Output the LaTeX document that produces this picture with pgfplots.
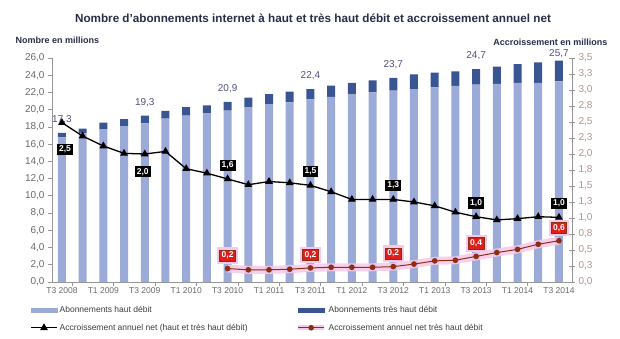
\documentclass[border=0pt]{standalone}
\usepackage{fontspec}
\setmainfont{Liberation Sans}
\usepackage{pgfplots}
\usepackage{pgfplotstable}
\pgfplotsset{compat=1.18}

\definecolor{hd}{RGB}{155,170,214}
\definecolor{thd}{RGB}{58,86,146}
\definecolor{redline}{RGB}{140,45,20}
\definecolor{glow}{RGB}{248,200,232}
\definecolor{tickgray}{RGB}{105,105,105}
\definecolor{righttick}{RGB}{175,148,138}
\definecolor{totcol}{RGB}{80,80,125}
\definecolor{titlecol}{RGB}{40,45,70}
\definecolor{labred}{RGB}{222,30,25}
\definecolor{axisgray}{RGB}{150,150,150}
\definecolor{legtext}{RGB}{60,60,60}

\pgfplotstableread{
x hd thd
0 16.8 0.5
1 17.25 0.55
2 17.75 0.75
3 18.1 0.8
4 18.4 0.9
5 18.95 0.9
6 19.3 1.0
7 19.6 0.9
8 19.9 1.0
9 20.3 1.1
10 20.65 1.15
11 20.85 1.25
12 21.2 1.2
13 21.5 1.3
14 21.8 1.3
15 22.0 1.4
16 22.2 1.5
17 22.4 1.7
18 22.6 1.7
19 22.75 1.7
20 22.9 1.8
21 23.0 2.0
22 23.1 2.2
23 23.1 2.4
24 23.3 2.4
}\bars

\pgfplotstableread{
x y
0 2.49
1 2.28
2 2.125
3 2.01
4 2.0
5 2.04
6 1.77
7 1.70
8 1.61
9 1.52
10 1.57
11 1.55
12 1.51
13 1.41
14 1.29
15 1.29
16 1.29
17 1.25
18 1.19
19 1.09
20 1.02
21 0.97
22 0.99
23 1.02
24 1.01
}\total

\pgfplotstableread{
x y
8 0.21
9 0.19
10 0.19
11 0.20
12 0.22
13 0.23
14 0.23
15 0.23
16 0.24
17 0.28
18 0.33
19 0.34
20 0.40
21 0.46
22 0.51
23 0.59
24 0.645
}\thdinc

\tikzset{
  blacklab/.style={fill=black, text=white, font=\bfseries\fontsize{8.5bp}{10bp}\selectfont, inner sep=2bp},
  totlab/.style={font=\fontsize{10bp}{12bp}\selectfont, text=totcol, anchor=south, inner sep=1bp},
}
\pgfplotsset{
  base/.style={scale only axis, width=520bp, height=224bp,
    xmin=-0.48, xmax=24.63, clip=false,
    axis line style={axisgray, line width=0.8bp},
    tick style={axisgray, line width=0.8bp}},
  linelegend/.style={legend image code/.code={\draw[mark repeat=2,mark phase=2,##1] plot coordinates {(0bp,0bp) (13bp,0bp) (26bp,0bp)};}},
  redlegend/.style={legend image code/.code={\draw[glow, line width=5bp] (0bp,0bp) -- (26bp,0bp);
    \draw[mark repeat=2,mark phase=2,##1] plot coordinates {(0bp,0bp) (13bp,0bp) (26bp,0bp)};}},
  hdlegend/.style={legend image code/.code={\fill[hd] (0bp,-2bp) rectangle (26bp,2bp);}},
  thdlegend/.style={legend image code/.code={\fill[thd] (0bp,-2bp) rectangle (26bp,2bp);}},
}

\begin{document}
\begin{tikzpicture}
\useasboundingbox (-52bp,-57bp) rectangle (568bp,282bp);

% bars
\begin{axis}[base,
  ybar stacked, bar width=8bp,
  ymin=0, ymax=26,
  axis y line*=left, axis x line*=bottom,
  ytick={0,2,...,26},
  yticklabels={{0,0},{2,0},{4,0},{6,0},{8,0},{10,0},{12,0},{14,0},{16,0},{18,0},{20,0},{22,0},{24,0},{26,0}},
  yticklabel style={font=\fontsize{10bp}{12bp}\selectfont, text=tickgray},
  xtick={0.5,2.5,...,22.5}, xticklabels={},
  tick align=outside, major tick length=4bp,
]
\addplot[fill=hd, draw=none] table[x=x, y=hd] {\bars};
\addplot[fill=thd, draw=none] table[x=x, y=thd] {\bars};
\end{axis}

% x labels and totals
\begin{axis}[base,
  ymin=0, ymax=26,
  axis x line*=bottom, axis y line=none,
  axis line style={draw=none}, tick style={draw=none},
  xtick={0,2,...,24},
  xticklabels={T3 2008,T1 2009,T3 2009,T1 2010,T3 2010,T1 2011,T3 2011,T1 2012,T3 2012,T1 2013,T3 2013,T1 2014,T3 2014},
  xticklabel style={font=\fontsize{8.5bp}{10bp}\selectfont, text=tickgray, yshift=-2bp},
]
\addplot[draw=none, mark=none, nodes near coords, point meta=explicit symbolic,
  nodes near coords style={totlab, yshift=8bp}]
  coordinates {(0,17.3)[17,3] (4,19.3)[19,3] (8,20.9)[20,9] (12,22.4)[22,4] (16,23.7)[23,7] (20,24.7)[24,7]};
\addplot[draw=none, mark=none, nodes near coords, point meta=explicit symbolic,
  nodes near coords style={totlab, yshift=1.5bp}]
  coordinates {(24,25.7)[25,7]};
\end{axis}

% lines
\begin{axis}[base,
  ymin=0, ymax=3.5,
  axis y line*=right, axis x line=none,
  ytick={0,0.25,0.5,0.75,1,1.25,1.5,1.75,2,2.25,2.5,2.75,3,3.25,3.5},
  yticklabels={{0,0},{0,3},{0,5},{0,8},{1,0},{1,3},{1,5},{1,8},{2,0},{2,3},{2,5},{2,8},{3,0},{3,3},{3,5}},
  yticklabel style={font=\fontsize{10bp}{12bp}\selectfont, text=righttick},
  tick align=center, major tick length=6bp,
  legend columns=2,
  legend cell align=left,
  legend style={at={(axis description cs:-0.042,-0.098)}, anchor=north west,
    draw=none, fill=none, inner sep=0pt, row sep=6bp,
    font=\fontsize{8.5bp}{10bp}\selectfont, text=legtext,
    /tikz/every even column/.append style={column sep=46bp}},
  linelegend,
]
\addlegendimage{hdlegend}
\addlegendentry{Abonnements haut débit}
\addlegendimage{thdlegend}
\addlegendentry{Abonnements très haut débit}

\addplot[glow, line width=8bp, opacity=0.85, forget plot] table[x=x,y=y] {\thdinc};

\addplot[black, line width=1.3bp, mark=triangle*, mark size=3.2bp] table[x=x,y=y] {\total};
\addlegendentry{Accroissement annuel net (haut et très haut débit)}

\addplot[redline, line width=1bp, mark=*, mark size=2.3bp, redlegend]
  table[x=x,y=y] {\thdinc};
\addlegendentry{Accroissement annuel net très haut débit}

% black labels below
\addplot[draw=none, mark=none, forget plot, nodes near coords, point meta=explicit symbolic,
  nodes near coords style={blacklab, anchor=north, yshift=-21bp, xshift=3bp}]
  coordinates {(0,2.49)[2,5]};
\addplot[draw=none, mark=none, forget plot, nodes near coords, point meta=explicit symbolic,
  nodes near coords style={blacklab, anchor=north, yshift=-12bp, xshift=-2bp}]
  coordinates {(4,2.0)[2,0]};
% black labels above
\addplot[draw=none, mark=none, forget plot, nodes near coords, point meta=explicit symbolic,
  nodes near coords style={blacklab, anchor=south, yshift=8bp}]
  coordinates {(8,1.61)[1,6] (12,1.51)[1,5] (16,1.29)[1,3] (20,1.02)[1,0] (24,1.01)[1,0]};
% red labels
\addplot[draw=none, mark=none, forget plot, nodes near coords, point meta=explicit symbolic,
  nodes near coords style={fill=labred, draw=redline, line width=0.8bp, text=white,
    preaction={draw=glow, line width=5bp},
    font=\bfseries\fontsize{8.5bp}{10bp}\selectfont, inner sep=2bp, anchor=south, yshift=7bp}]
  coordinates {(8,0.21)[0,2] (12,0.22)[0,2] (16,0.24)[0,2] (20,0.40)[0,4] (24,0.645)[0,6]};
\end{axis}

\node[font=\bfseries\fontsize{11.7bp}{13bp}\selectfont, text=titlecol] at (261bp,264bp)
  {Nombre d'abonnements internet à haut et très haut débit et accroissement annuel net};
\node[font=\bfseries\fontsize{9bp}{11bp}\selectfont, text=titlecol, anchor=west] at (-40bp,242bp)
  {Nombre en millions};
\node[font=\bfseries\fontsize{9bp}{11bp}\selectfont, text=titlecol, anchor=east] at (559bp,240bp)
  {Accroissement en millions};
\end{tikzpicture}
\end{document}
